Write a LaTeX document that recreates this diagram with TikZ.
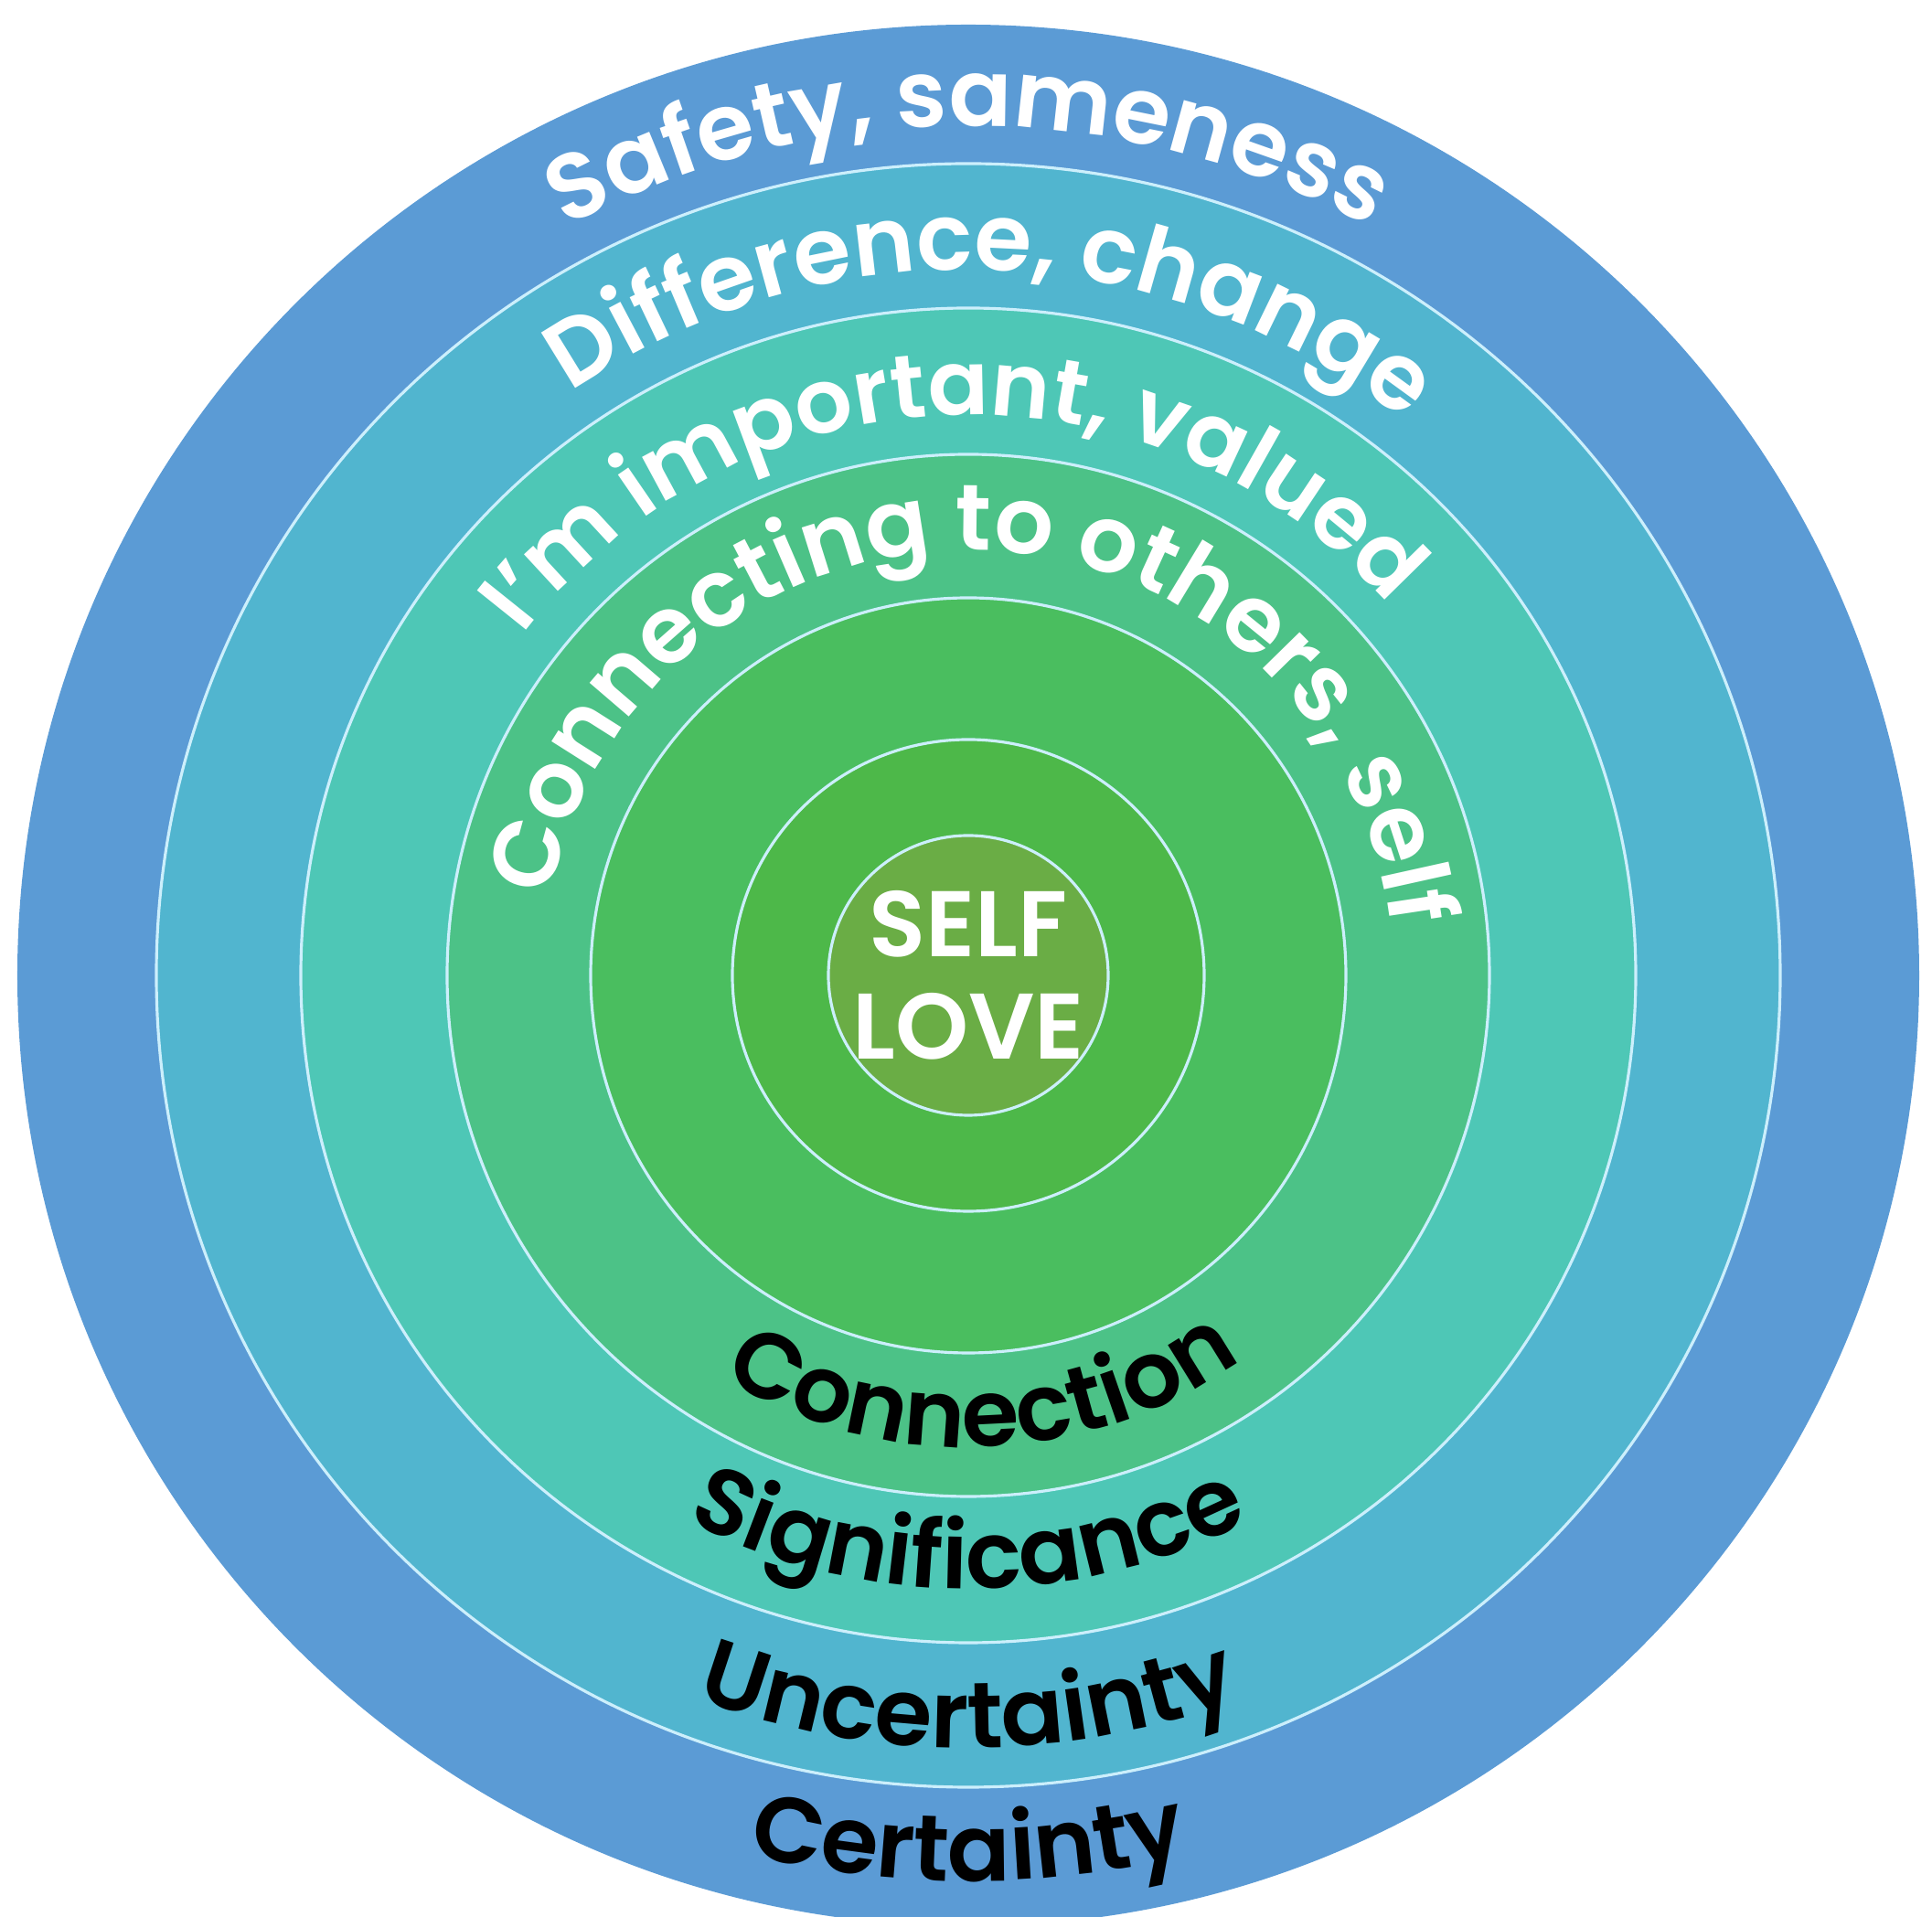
\documentclass[tikz,border=0pt]{standalone}
\usepackage{fontspec}
\setmainfont{Poppins}[BoldFont={Poppins SemiBold}]
\usetikzlibrary{decorations.text}

\definecolor{ringA}{HTML}{5B9BD5}
\definecolor{ringB}{HTML}{51B5CF}
\definecolor{ringC}{HTML}{4EC7B6}
\definecolor{ringD}{HTML}{4CC287}
\definecolor{ringE}{HTML}{4ABE5F}
\definecolor{ringF}{HTML}{4DB849}
\definecolor{ringG}{HTML}{6AAD45}

\newcommand{\ringfont}{\bfseries\fontsize{29}{33}\selectfont}
\tikzstyle{toptext} = [decorate, decoration={text along path,
  text align=center, text color=white}]
\tikzstyle{bottomtext} = [decorate, decoration={text along path,
  text align=center, text color=black}]
\tikzstyle{ringline} = [draw=white!80!cyan, line width=0.9]

\begin{document}
\begin{tikzpicture}
  \useasboundingbox (-10.59,-10.30) rectangle (10.54,10.67);

  % rings, outside in
  \foreach \r/\c in {10.40/ringA, 8.88/ringB, 7.30/ringC, 5.70/ringD,
    4.13/ringE, 2.58/ringF, 1.53/ringG} {
    \fill[\c] (0,0) circle (\r);
  }
  \foreach \r in {8.88,7.30,5.70,4.13,2.58,1.53} {
    \draw[ringline] (0,0) circle (\r);
  }

  % top labels
  \path[toptext, decoration={text={|\ringfont|Safety, sameness}}]
  (170:9.29) arc[start angle=170, end angle=10, radius=9.29];
  \path[toptext, decoration={text={|\ringfont|Difference, change}}]
  (168:7.72) arc[start angle=168, end angle=8, radius=7.72];
  \path[toptext, decoration={text={|\bfseries\fontsize{28}{32}\selectfont|I'm important, valued}}]
  (182:6.13) arc[start angle=182, end angle=2, radius=6.13];
  \path[toptext, decoration={text={|\ringfont|Connecting to others, self}}]
  (178:4.65) arc[start angle=178, end angle=-2, radius=4.65];

  % bottom labels
  \path[bottomtext, decoration={text={|\ringfont|Connection}}]
  (182:5.16) arc[start angle=182, end angle=362, radius=5.16];
  \path[bottomtext, decoration={text={|\ringfont|Significance}}]
  (180:6.71) arc[start angle=180, end angle=360, radius=6.71];
  \path[bottomtext, decoration={text={|\ringfont|Uncertainty}}]
  (180:8.45) arc[start angle=180, end angle=360, radius=8.45];
  \path[bottomtext, decoration={text={|\ringfont|Certainty}}]
  (180:9.91) arc[start angle=180, end angle=360, radius=9.91];

  % centre
  \node[white, align=center, font=\bfseries\fontsize{29}{32}\selectfont]
  (selflove) at (0,0) {SELF\\LOVE};
\end{tikzpicture}
\end{document}
